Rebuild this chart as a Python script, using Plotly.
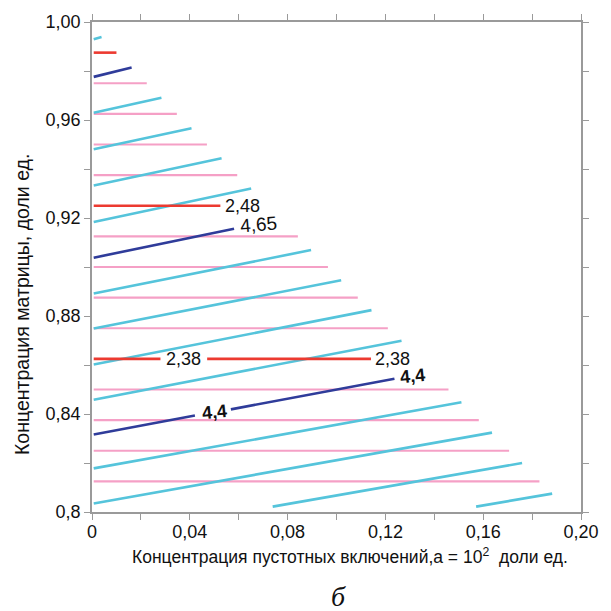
import plotly.graph_objects as go

# ---------------- data ----------------
# horizontal pink iso-lines: y level and right end
pink_y = [0.975, 0.9625, 0.95, 0.9375, 0.9125, 0.90, 0.8875, 0.875, 0.85, 0.8375, 0.825, 0.8125]
pink_x0 = [0.0007] * 12
pink_x1 = [0.0224, 0.0347, 0.0470, 0.0594, 0.0842, 0.0965, 0.1087, 0.1210, 0.1458, 0.1582, 0.1706, 0.1830]

# red iso-lines (2,38 / 2,48), segments with label gaps
red_x0 = [0.0007, 0.0007, 0.0007, 0.0471]
red_x1 = [0.0100, 0.0525, 0.0280, 0.1141]
red_y = [0.9875, 0.925, 0.8625, 0.8625]

# dark blue iso-lines (4,4 / 4,65)
blue_x0 = [0.0007, 0.0007, 0.0007, 0.0568]
blue_y0 = [0.9776, 0.9038, 0.8316, 0.8419]
blue_x1 = [0.0162, 0.0581, 0.0421, 0.1237]
blue_y1 = [0.9814, 0.9156, 0.8394, 0.8544]

# cyan sloped iso-lines
cyan_x0 = [0.0007, 0.0007, 0.0007, 0.0007, 0.0007, 0.0007, 0.0007, 0.0007, 0.0007, 0.0007, 0.0007, 0.0739, 0.1571]
cyan_y0 = [0.9930, 0.9630, 0.9481, 0.9333, 0.9184, 0.8892, 0.8749, 0.8602, 0.8458, 0.8178, 0.8035, 0.8022, 0.8022]
cyan_x1 = [0.0039, 0.0284, 0.0407, 0.0530, 0.0651, 0.0896, 0.1019, 0.1143, 0.1266, 0.1511, 0.1636, 0.1759, 0.1882]
cyan_y1 = [0.9939, 0.9691, 0.9566, 0.9444, 0.9320, 0.9069, 0.8946, 0.8824, 0.8699, 0.8448, 0.8324, 0.8200, 0.8075]

# inline labels
label_text = ["2,48", "4,65", "2,38", "2,38", "4,4", "4,4"]
label_x = [0.0614, 0.0679, 0.0373, 0.1231, 0.0501, 0.1309]
label_y = [0.9250, 0.9174, 0.8625, 0.8625, 0.8408, 0.8557]
label_bold = [False, False, False, False, True, True]
label_size = [18, 19, 18, 18, 18, 18]
label_angle = [0, -5, 0, 0, -6, -6]

x_ticks = [0, 0.02, 0.04, 0.06, 0.08, 0.10, 0.12, 0.14, 0.16, 0.18, 0.20]
x_ticktext = ["0", "", "0,04", "", "0,08", "", "0,12", "", "0,16", "", "0,20"]
y_ticks = [0.80, 0.82, 0.84, 0.86, 0.88, 0.90, 0.92, 0.94, 0.96, 0.98, 1.00]
y_ticktext = ["0,8", "", "0,84", "", "0,88", "", "0,92", "", "0,96", "", "1,00"]


def segs(x0, y0, x1, y1):
    xs, ys = [], []
    for a, b, c, d in zip(x0, y0, x1, y1):
        xs += [a, c, None]
        ys += [b, d, None]
    return xs, ys


fig = go.Figure()

px_, py_ = segs(pink_x0, pink_y, pink_x1, pink_y)
fig.add_trace(go.Scatter(x=px_, y=py_, mode="lines", line=dict(color="#F5A0C6", width=2.2),
                         hoverinfo="skip", showlegend=False))
cx, cy = segs(cyan_x0, cyan_y0, cyan_x1, cyan_y1)
fig.add_trace(go.Scatter(x=cx, y=cy, mode="lines", line=dict(color="#55C4DB", width=2.6),
                         hoverinfo="skip", showlegend=False))
rx, ry = segs(red_x0, red_y, red_x1, red_y)
fig.add_trace(go.Scatter(x=rx, y=ry, mode="lines", line=dict(color="#EC3A30", width=2.6),
                         hoverinfo="skip", showlegend=False))
bx, by = segs(blue_x0, blue_y0, blue_x1, blue_y1)
fig.add_trace(go.Scatter(x=bx, y=by, mode="lines", line=dict(color="#2F3C9A", width=2.6),
                         hoverinfo="skip", showlegend=False))

for t, x, y, b, s, ang in zip(label_text, label_x, label_y, label_bold, label_size, label_angle):
    fig.add_annotation(x=x, y=y, xref="x", yref="y", text=("<b>%s</b>" % t) if b else t,
                       showarrow=False, textangle=ang, xanchor="center", yanchor="middle",
                       font=dict(family="Liberation Sans, Arial", size=s, color="#111111"))

axis_common = dict(showgrid=False, zeroline=False, showline=True, linecolor="#9a9a9a", linewidth=1.5,
                   mirror="ticks", ticks="outside", ticklen=6, tickwidth=1.2, tickcolor="#9a9a9a",
                   tickfont=dict(family="Liberation Sans, Arial", size=18, color="#111111"))

fig.update_xaxes(range=[0, 0.20], tickmode="array", tickvals=x_ticks, ticktext=x_ticktext,
                 ticklabelstandoff=-3, **axis_common)
fig.update_yaxes(range=[0.80, 1.00], tickmode="array", tickvals=y_ticks, ticktext=y_ticktext, **axis_common)

fig.add_annotation(xref="paper", yref="paper", x=0.527, y=-0.0894, showarrow=False,
                   xanchor="center", yanchor="middle",
                   text="Концентрация пустотных включений,а = 10<sup>2</sup>  доли ед.",
                   font=dict(family="Liberation Sans, Arial", size=17.5, color="#111111"))
fig.add_annotation(xref="paper", yref="paper", x=-0.1446, y=0.423, showarrow=False, textangle=-90,
                   xanchor="center", yanchor="middle",
                   text="Концентрация матрицы, доли ед.",
                   font=dict(family="Liberation Sans, Arial", size=19.5, color="#111111"))
fig.add_annotation(xref="paper", yref="paper", x=0.504, y=-0.173, showarrow=False,
                   xanchor="center", yanchor="middle",
                   text="<i>б</i>",
                   font=dict(family="Liberation Serif", size=28, color="#111111"))

fig.update_layout(width=611, height=611, margin=dict(l=92, r=21, t=20, b=99),
                  plot_bgcolor="white", paper_bgcolor="white")

fig.write_html("out.html")
